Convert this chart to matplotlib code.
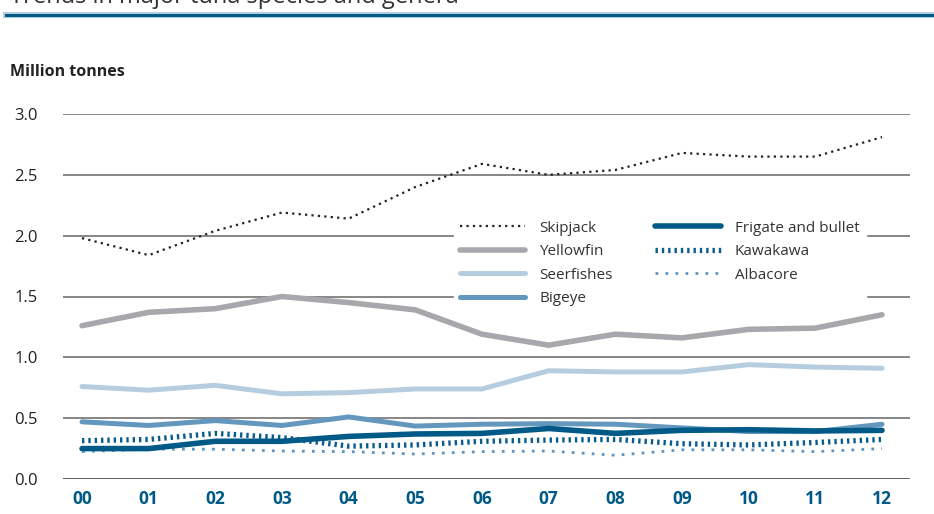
import numpy as np
import matplotlib
matplotlib.use("Agg")
from matplotlib import pyplot as plt
from matplotlib.lines import Line2D

# Dados
anos = ["00", "01", "02", "03", "04", "05", "06", "07", "08", "09", "10", "11", "12"]
skipjack = [1.98, 1.84, 2.04, 2.19, 2.14, 2.40, 2.59, 2.50, 2.54, 2.68, 2.65, 2.65, 2.81]
yellowfin = [1.26, 1.37, 1.40, 1.50, 1.45, 1.39, 1.19, 1.10, 1.19, 1.16, 1.23, 1.24, 1.35]
seerfishes = [0.76, 0.73, 0.77, 0.70, 0.71, 0.74, 0.74, 0.89, 0.88, 0.88, 0.94, 0.92, 0.91]
bigeye = [0.47, 0.44, 0.48, 0.44, 0.51, 0.435, 0.45, 0.455, 0.45, 0.42, 0.39, 0.39, 0.45]
frigate = [0.25, 0.25, 0.31, 0.31, 0.35, 0.37, 0.375, 0.415, 0.375, 0.40, 0.405, 0.395, 0.40]
kawakawa = [0.315, 0.325, 0.375, 0.34, 0.27, 0.28, 0.31, 0.32, 0.325, 0.29, 0.28, 0.30, 0.325]
albacore = [0.225, 0.245, 0.245, 0.23, 0.225, 0.205, 0.225, 0.23, 0.195, 0.24, 0.24, 0.225, 0.25]
y_ticks = [0.0, 0.5, 1.0, 1.5, 2.0, 2.5, 3.0]

azul = "#005a87"
x = np.arange(len(anos))

fig = plt.figure(figsize=(9.34, 5.14), dpi=100)
ax = fig.add_axes([63/934, 35/514, 847/934, 365/514])

# Titulo (cortado no topo, como no original) e linha azul
fig.text(10/934, 1 - 3/514, "Trends in major tuna species and genera", fontsize=17,
         color="#333333", va="baseline", family="Open Sans")
fig.add_artist(Line2D([6/934, 1], [1 - 15/514]*2, color="#b9d0e0", lw=4.5, transform=fig.transFigure))
fig.add_artist(Line2D([6/934, 1], [1 - 15/514]*2, color=azul, lw=2.2, transform=fig.transFigure))

fig.text(10/934, 1 - 72/514, "Million tonnes", fontsize=11.5, fontweight="bold",
         color="#222222", va="center", family="Open Sans")

# Grade
for v in y_ticks:
    ax.axhline(v, color="#333333" if v == 0 else "#666666", lw=1.1, zorder=1)

# Linhas
ax.plot(x, albacore, color="#5e95c0", lw=2.0, ls=(0, (1, 2.6)), label="Albacore", zorder=2)
ax.plot(x, kawakawa, color="#0b5c8a", lw=3.8, ls=(0, (0.45, 0.75)), label="Kawakawa", zorder=3)
ax.plot(x, bigeye, color="#6497be", lw=3.6, solid_capstyle="round", label="Bigeye", zorder=4)
ax.plot(x, frigate, color=azul, lw=4.0, solid_capstyle="round", label="Frigate and bullet", zorder=5)
ax.plot(x, seerfishes, color="#b6cde0", lw=3.6, solid_capstyle="round", label="Seerfishes", zorder=4)
ax.plot(x, yellowfin, color="#a7a8ab", lw=4.0, solid_capstyle="round", label="Yellowfin", zorder=4)
ax.plot(x, skipjack, color="#222222", lw=1.6, ls=(0, (1, 1.9)), label="Skipjack", zorder=6)

ax.set_xlim(-0.285, 12.42)
ax.set_ylim(0, 3.0)
ax.set_xticks(x)
ax.set_xticklabels(anos, fontsize=12.5, fontweight="bold", color=azul, family="Open Sans")
ax.set_yticks(y_ticks)
ax.set_yticklabels(["%.1f" % v for v in y_ticks], fontsize=12, color="#222222", family="Open Sans")
ax.tick_params(axis="both", length=0)
ax.tick_params(axis="x", pad=8)
ax.tick_params(axis="y", pad=18)
for s in ax.spines.values():
    s.set_visible(False)

# Legenda
h, l = ax.get_legend_handles_labels()
ordem = ["Skipjack", "Yellowfin", "Seerfishes", "Bigeye", "Frigate and bullet", "Kawakawa", "Albacore"]
hs = [h[l.index(n)] for n in ordem]
leg = ax.legend(hs, ordem, ncol=2, loc="upper left", bbox_to_anchor=(383/847, 1 - 93/365),
                frameon=True, framealpha=1, edgecolor="white", facecolor="white",
                handlelength=4.3, handletextpad=0.9, columnspacing=2.8,
                labelspacing=0.55, borderpad=0.4, prop={"family": "Open Sans", "size": 11})
for t in leg.get_texts():
    t.set_color("#333333")
leg.set_zorder(10)

fig.savefig("out.png", dpi=100)
